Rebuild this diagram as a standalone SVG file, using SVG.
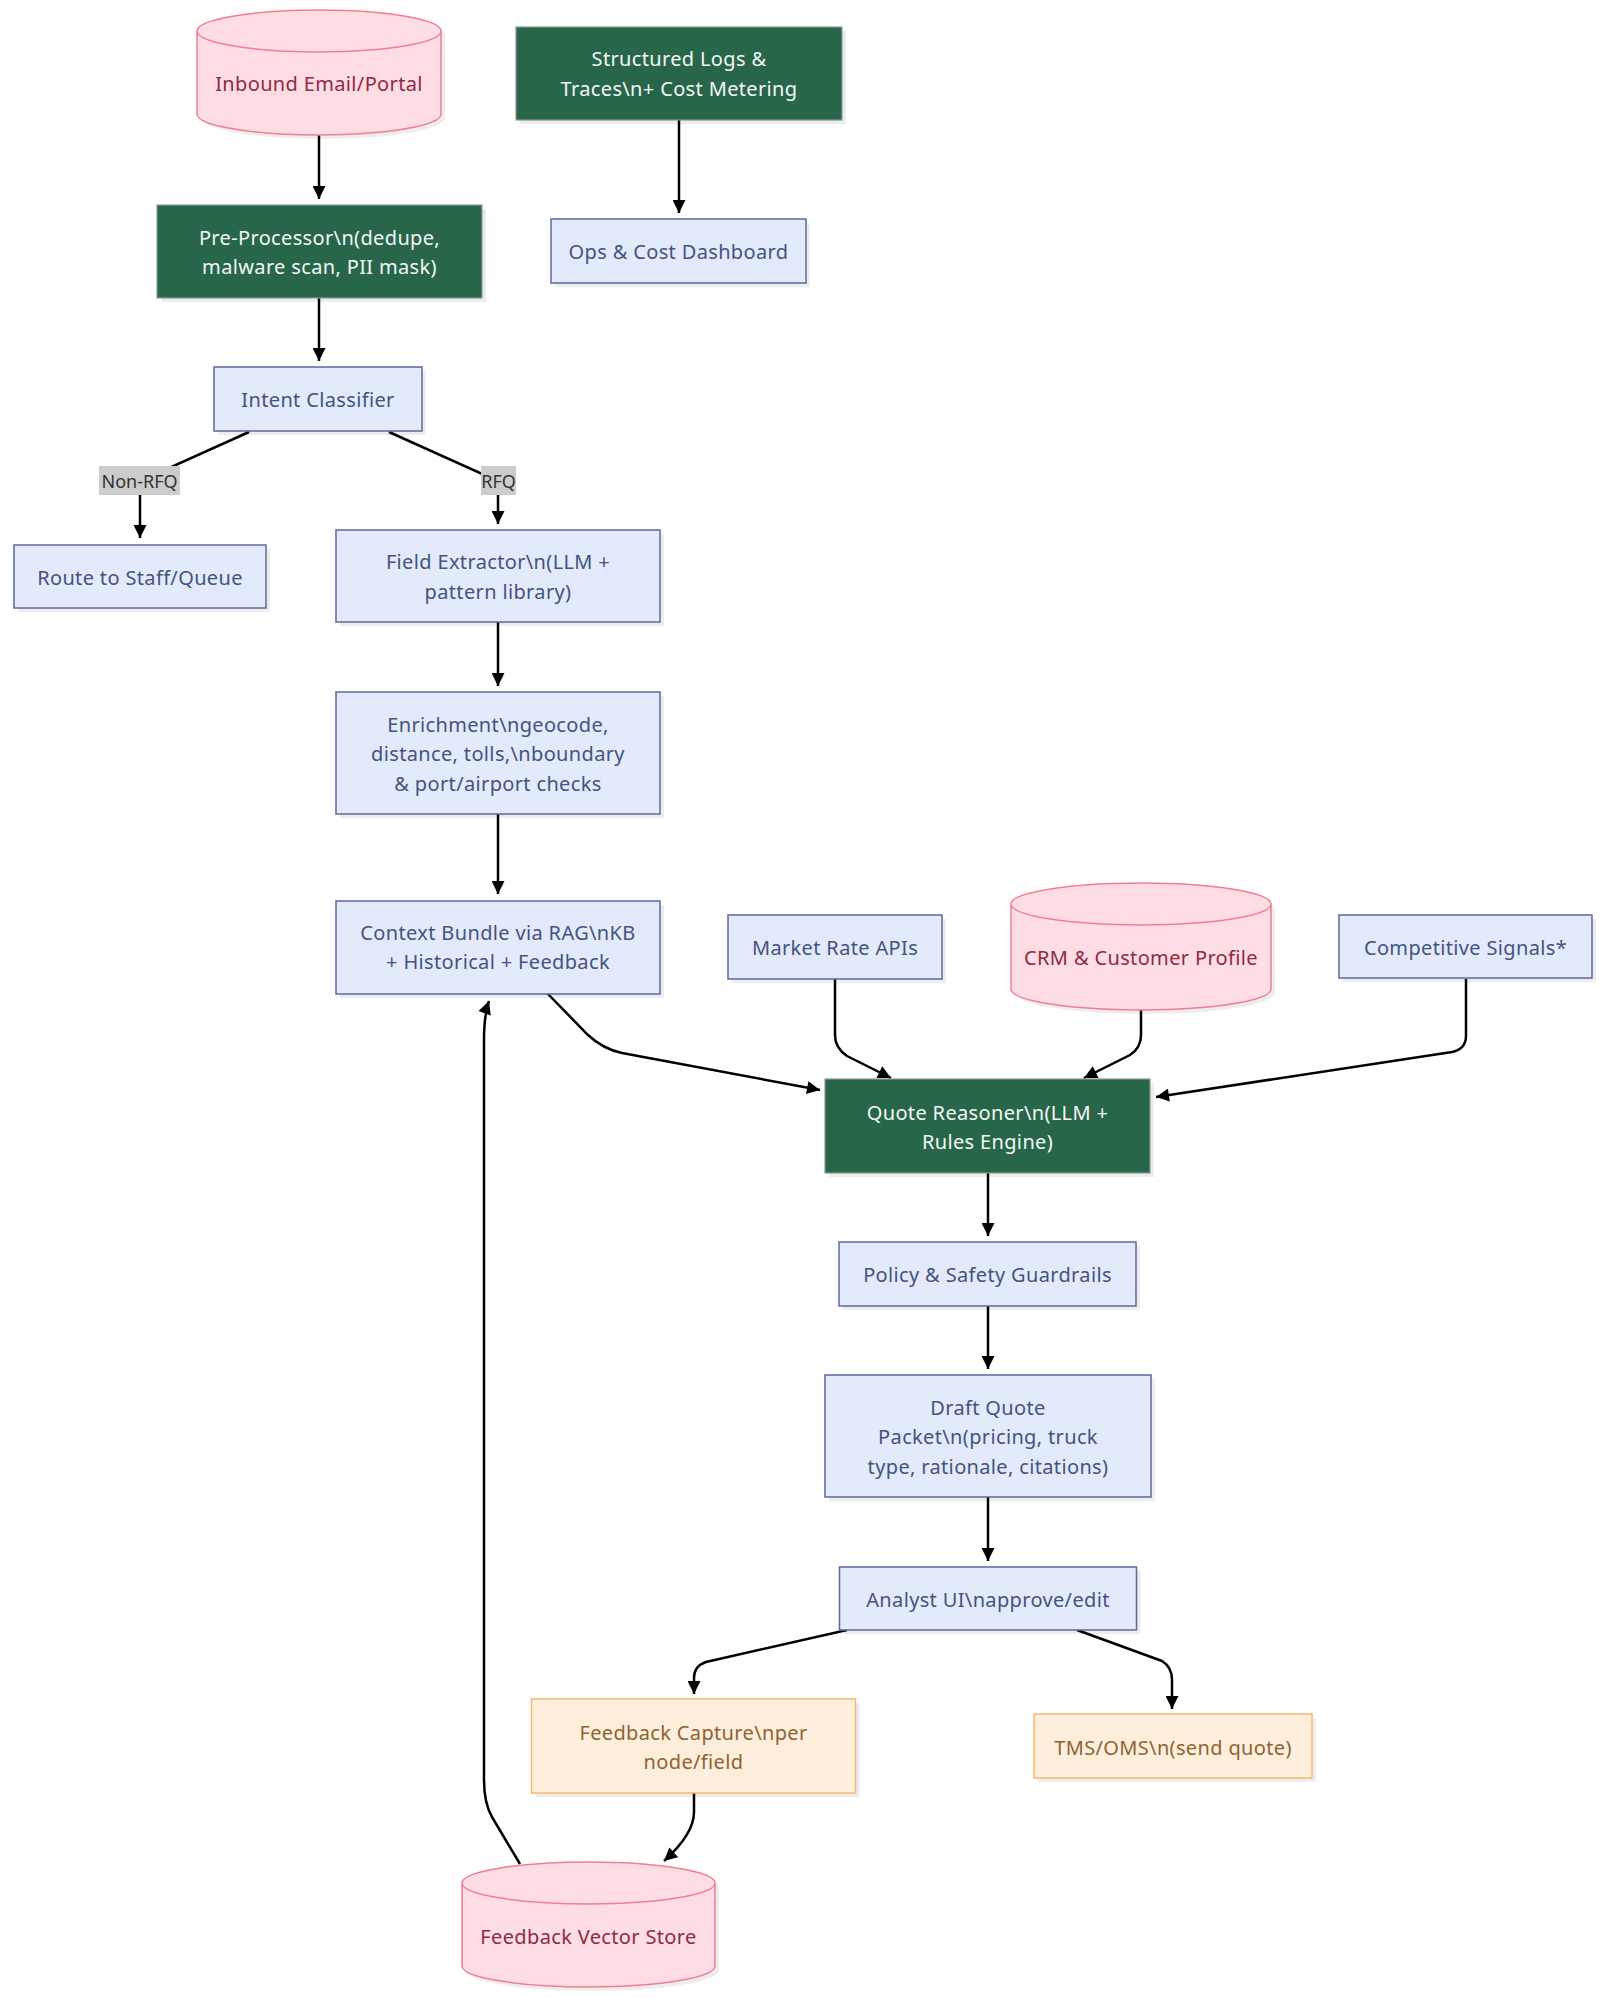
<svg xmlns="http://www.w3.org/2000/svg" width="1606" height="1999" viewBox="0 0 1606 1999">
<defs>
<marker id="arr" viewBox="0 0 10 10" refX="10" refY="5" markerUnits="userSpaceOnUse" markerWidth="14" markerHeight="13" orient="auto">
<path d="M0,0 L10,5 L0,10 z" fill="#000"/>
</marker>
</defs>
<style>
text{font-family:"Noto Sans","Open Sans","Liberation Sans",sans-serif;font-size:20px;letter-spacing:0.35px;text-anchor:middle;dominant-baseline:central}
.sh{fill:#000;opacity:0.07}
.blue rect.b{fill:#e2eafc;stroke:#5a6a9c;stroke-width:1.5}
.blue text{fill:#44537f}
.green rect.b{fill:#28664a;stroke:#8f9a94;stroke-width:1.2}
.green text{fill:#f4f7f5}
.pink path.b{fill:#ffdde4;stroke:#f27d92;stroke-width:1.5}
.pink text{fill:#8e2a42}
.orange rect.b{fill:#ffeedb;stroke:#f5b86e;stroke-width:1.5}
.orange text{fill:#8d6334}
.edges path{fill:none;stroke:#000;stroke-width:2.5;marker-end:url(#arr)}
.lbl rect{fill:#cccccc}
.lbl text{fill:#333;font-size:18px;letter-spacing:0}
</style>
<rect width="1606" height="1999" fill="#ffffff"/>

<g class="edges" id="connectors">
<path d="M319,135 L319,199"/>
<path d="M679,120 L679,213"/>
<path d="M319,298 L319,361"/>
<path d="M249,432 L140,481 L140,538"/>
<path d="M389,432 L498,481 L498,524"/>
<path d="M498,622 L498,686"/>
<path d="M498,814 L498,894"/>
<path d="M547,993 L588,1035 Q603,1049 622,1053 L820,1090"/>
<path d="M835,979 L835,1035 Q835,1048 847,1056 L891,1078"/>
<path d="M1141,1010 L1141,1035 Q1141,1048 1130,1055 L1084,1078"/>
<path d="M1466,979 L1466,1036 Q1466,1049 1452,1052 L1156,1097"/>
<path d="M988,1173 L988,1236"/>
<path d="M988,1306 L988,1369"/>
<path d="M988,1497 L988,1561"/>
<path d="M847,1630 L706,1662 Q694,1666 694,1678 L694,1694"/>
<path d="M1077,1630 L1162,1661 Q1172,1667 1172,1680 L1172,1709"/>
<path d="M694,1793 L694,1812 Q694,1834 664,1861"/>
<path d="M520,1864 L492,1817 Q484,1803 484,1780 L484,1040 Q484,1015 489,1001"/>
</g>

<g class="lbl" id="label-nonrfq"><rect x="99" y="466" width="81" height="29"/><text x="139.5" y="481">Non-RFQ</text></g>
<g class="lbl" id="label-rfq"><rect x="481" y="466" width="35" height="29"/><text x="498.5" y="481">RFQ</text></g>

<g class="pink" id="inbound">
<path class="sh" d="M201,35 a122,21 0 0 0 244,0 a122,21 0 0 0 -244,0 l0,83 a122,21 0 0 0 244,0 l0,-83"/>
<path class="b" d="M197,31 a122,21 0 0 0 244,0 a122,21 0 0 0 -244,0 l0,83 a122,21 0 0 0 244,0 l0,-83"/>
<text x="319" y="83">Inbound Email/Portal</text>
</g>

<g class="green" id="logs">
<rect class="sh" x="520" y="31" width="326" height="93"/>
<rect class="b" x="516" y="27" width="326" height="93"/>
<text x="679" y="58">Structured Logs &amp;</text>
<text x="679" y="88">Traces\n+ Cost Metering</text>
</g>

<g class="green" id="preproc">
<rect class="sh" x="161" y="209" width="325" height="93"/>
<rect class="b" x="157" y="205" width="325" height="93"/>
<text x="319.5" y="237">Pre-Processor\n(dedupe,</text>
<text x="319.5" y="266">malware scan, PII mask)</text>
</g>

<g class="blue" id="ops">
<rect class="sh" x="555" y="223" width="255" height="64"/>
<rect class="b" x="551" y="219" width="255" height="64"/>
<text x="678.5" y="251">Ops &amp; Cost Dashboard</text>
</g>

<g class="blue" id="intent">
<rect class="sh" x="218" y="371" width="208" height="64"/>
<rect class="b" x="214" y="367" width="208" height="64"/>
<text x="318" y="399">Intent Classifier</text>
</g>

<g class="blue" id="route">
<rect class="sh" x="18" y="549" width="252" height="63"/>
<rect class="b" x="14" y="545" width="252" height="63"/>
<text x="140" y="577">Route to Staff/Queue</text>
</g>

<g class="blue" id="extractor">
<rect class="sh" x="340" y="534" width="324" height="92"/>
<rect class="b" x="336" y="530" width="324" height="92"/>
<text x="498" y="561">Field Extractor\n(LLM +</text>
<text x="498" y="591">pattern library)</text>
</g>

<g class="blue" id="enrichment">
<rect class="sh" x="340" y="696" width="324" height="122"/>
<rect class="b" x="336" y="692" width="324" height="122"/>
<text x="498" y="724">Enrichment\ngeocode,</text>
<text x="498" y="753">distance, tolls,\nboundary</text>
<text x="498" y="783">&amp; port/airport checks</text>
</g>

<g class="blue" id="context">
<rect class="sh" x="340" y="905" width="324" height="93"/>
<rect class="b" x="336" y="901" width="324" height="93"/>
<text x="498" y="932">Context Bundle via RAG\nKB</text>
<text x="498" y="961">+ Historical + Feedback</text>
</g>

<g class="blue" id="market">
<rect class="sh" x="732" y="919" width="214" height="64"/>
<rect class="b" x="728" y="915" width="214" height="64"/>
<text x="835" y="947">Market Rate APIs</text>
</g>

<g class="pink" id="crm">
<path class="sh" d="M1015,908 a130,21 0 0 0 260,0 a130,21 0 0 0 -260,0 l0,85 a130,21 0 0 0 260,0 l0,-85"/>
<path class="b" d="M1011,904 a130,21 0 0 0 260,0 a130,21 0 0 0 -260,0 l0,85 a130,21 0 0 0 260,0 l0,-85"/>
<text x="1141" y="957">CRM &amp; Customer Profile</text>
</g>

<g class="blue" id="competitive">
<rect class="sh" x="1343" y="919" width="253" height="63"/>
<rect class="b" x="1339" y="915" width="253" height="63"/>
<text x="1465.5" y="947">Competitive Signals*</text>
</g>

<g class="green" id="reasoner">
<rect class="sh" x="829" y="1083" width="325" height="94"/>
<rect class="b" x="825" y="1079" width="325" height="94"/>
<text x="987.5" y="1112">Quote Reasoner\n(LLM +</text>
<text x="987.5" y="1141">Rules Engine)</text>
</g>

<g class="blue" id="policy">
<rect class="sh" x="843" y="1246" width="297" height="64"/>
<rect class="b" x="839" y="1242" width="297" height="64"/>
<text x="987.5" y="1274">Policy &amp; Safety Guardrails</text>
</g>

<g class="blue" id="draft">
<rect class="sh" x="829" y="1379" width="326" height="122"/>
<rect class="b" x="825" y="1375" width="326" height="122"/>
<text x="988" y="1407">Draft Quote</text>
<text x="988" y="1436">Packet\n(pricing, truck</text>
<text x="988" y="1466">type, rationale, citations)</text>
</g>

<g class="blue" id="analyst">
<rect class="sh" x="843.5" y="1571" width="297" height="63"/>
<rect class="b" x="839.5" y="1567" width="297" height="63"/>
<text x="988" y="1599">Analyst UI\napprove/edit</text>
</g>

<g class="orange" id="feedback-capture">
<rect class="sh" x="535.5" y="1703" width="324" height="94"/>
<rect class="b" x="531.5" y="1699" width="324" height="94"/>
<text x="693.5" y="1732">Feedback Capture\nper</text>
<text x="693.5" y="1761">node/field</text>
</g>

<g class="orange" id="tms">
<rect class="sh" x="1038" y="1718" width="278" height="64"/>
<rect class="b" x="1034" y="1714" width="278" height="64"/>
<text x="1173" y="1747">TMS/OMS\n(send quote)</text>
</g>

<g class="pink" id="vector-store">
<path class="sh" d="M466,1887 a126.5,21 0 0 0 253,0 a126.5,21 0 0 0 -253,0 l0,83 a126.5,21 0 0 0 253,0 l0,-83"/>
<path class="b" d="M462,1883 a126.5,21 0 0 0 253,0 a126.5,21 0 0 0 -253,0 l0,83 a126.5,21 0 0 0 253,0 l0,-83"/>
<text x="588.5" y="1936">Feedback Vector Store</text>
</g>
</svg>
